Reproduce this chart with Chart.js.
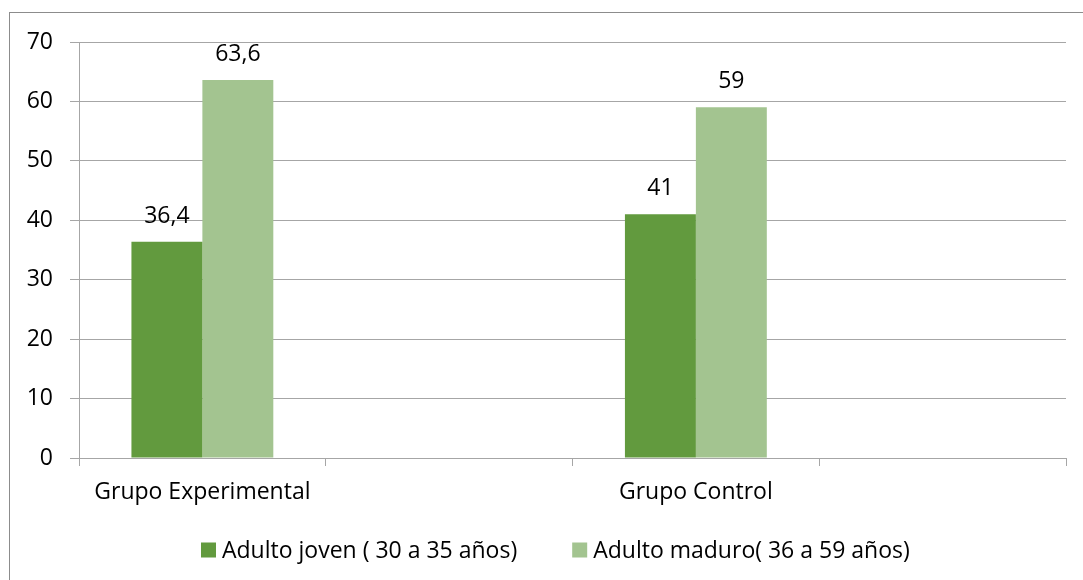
<!DOCTYPE html>
<html>
<head>
<meta charset="utf-8">
<script src="https://cdn.jsdelivr.net/npm/chart.js@4/dist/chart.umd.min.js"></script>
<style>
  html, body { margin: 0; padding: 0; background: #ffffff; }
  #wrap { width: 1083px; height: 580px; position: relative; }
</style>
</head>
<body>
<div id="wrap"><canvas id="c" width="1083" height="580"></canvas></div>
<script>
// Groups on the horizontal axis (the empty slots keep the wide spacing between groups)
const categories = ['Grupo Experimental', '', 'Grupo Control', ''];
// Percentage per age range
const adultoJoven = [36.4, null, 41, null];
const adultoMaduro = [63.6, null, 59, null];
const seriesNames = ['Adulto joven ( 30 a 35 años)', 'Adulto maduro( 36 a 59 años)'];
const yTicks = [0, 10, 20, 30, 40, 50, 60, 70];

const FONT = '"Open Sans", "Noto Sans", sans-serif';
const FONT_SIZE = 23;
const GRID = '#a6a6a6';
const COLORS = ['#629a3e', '#a3c490'];

// Frame around the whole figure
const framePlugin = {
  id: 'frame',
  beforeDraw(chart) {
    const ctx = chart.ctx;
    ctx.save();
    ctx.fillStyle = '#ffffff';
    ctx.fillRect(0, 0, chart.width, chart.height);
    ctx.strokeStyle = '#8c8c8c';
    ctx.lineWidth = 1;
    ctx.strokeRect(9.5, 12.5, chart.width, chart.height);
    ctx.restore();
  }
};

// Value labels above each bar, with comma decimals
const valueLabels = {
  id: 'valueLabels',
  afterDatasetsDraw(chart) {
    const ctx = chart.ctx;
    ctx.save();
    ctx.font = FONT_SIZE + 'px ' + FONT;
    ctx.fillStyle = '#000000';
    ctx.textAlign = 'center';
    ctx.textBaseline = 'alphabetic';
    chart.data.datasets.forEach((ds, di) => {
      const meta = chart.getDatasetMeta(di);
      meta.data.forEach((bar, i) => {
        const v = ds.data[i];
        if (v === null || v === undefined) return;
        const txt = String(v).replace('.', ',');
        ctx.fillText(txt, bar.x, bar.y - 19);
      });
    });
    ctx.restore();
  }
};

// Legend row under the axis labels
const legendRow = {
  id: 'legendRow',
  afterDraw(chart) {
    const ctx = chart.ctx;
    ctx.save();
    ctx.font = FONT_SIZE + 'px ' + FONT;
    const box = 15, gapText = 6, gapItem = 55;
    const items = chart.data.datasets.map(ds => ({
      label: ds.label, color: ds.backgroundColor,
      w: ctx.measureText(ds.label).width
    }));
    let total = 0;
    items.forEach((it, i) => { total += box + gapText + it.w + (i < items.length - 1 ? gapItem : 0); });
    let x = Math.round(555 - total / 2);
    const cy = 550;
    items.forEach(it => {
      ctx.fillStyle = it.color;
      ctx.fillRect(x, cy - 7.5, box, box);
      ctx.fillStyle = '#000000';
      ctx.textAlign = 'left';
      ctx.textBaseline = 'middle';
      ctx.fillText(it.label, x + box + gapText, cy + 1);
      x += box + gapText + it.w + gapItem;
    });
    ctx.restore();
  }
};

new Chart(document.getElementById('c'), {
  type: 'bar',
  data: {
    labels: categories,
    datasets: [
      { label: seriesNames[0], data: adultoJoven, backgroundColor: COLORS[0],
        categoryPercentage: 0.575, barPercentage: 1.0, borderWidth: 0 },
      { label: seriesNames[1], data: adultoMaduro, backgroundColor: COLORS[1],
        categoryPercentage: 0.575, barPercentage: 1.0, borderWidth: 0 }
    ]
  },
  options: {
    responsive: false,
    animation: false,
    devicePixelRatio: 1,
    layout: { padding: { top: 42, left: 0, right: 17, bottom: 0 } },
    plugins: {
      legend: { display: false },
      tooltip: { enabled: false }
    },
    scales: {
      x: {
        grid: { offset: true, drawOnChartArea: false, drawTicks: true, tickLength: 8, color: GRID, lineWidth: 1 },
        border: { display: true, color: GRID, width: 1 },
        ticks: { color: '#000000', font: { family: FONT, size: FONT_SIZE }, padding: 13, maxRotation: 0, autoSkip: false },
        afterFit(scale) { scale.height = 122; }
      },
      y: {
        min: 0, max: 70,
        afterBuildTicks(scale) { scale.ticks = yTicks.map(v => ({ value: v })); },
        grid: { color: GRID, lineWidth: 1, drawTicks: true, tickLength: 9 },
        border: { display: true, color: GRID, width: 1 },
        ticks: { color: '#000000', font: { family: FONT, size: FONT_SIZE }, padding: 17 },
        afterFit(scale) { scale.width = 79; }
      }
    }
  },
  plugins: [framePlugin, valueLabels, legendRow]
});
</script>
</body>
</html>
